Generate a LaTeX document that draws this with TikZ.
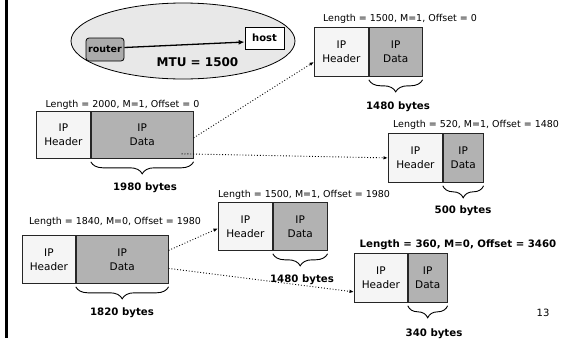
\documentclass[tikz,border=0pt]{standalone}
\usepackage{fontspec}
\setmainfont{DejaVu Sans}
\usetikzlibrary{arrows.meta,decorations.pathreplacing,calc,shapes.geometric}
\begin{document}
\begin{tikzpicture}[x=1pt,y=-1pt,
  hdr/.style={draw=black!85, fill=black!4, line width=0.8pt, inner sep=0pt, anchor=north west, align=center, font=\fontsize{10.5}{14}\selectfont},
  dat/.style={hdr, fill=black!30},
  lbl/.style={font=\fontsize{9.5}{11}\selectfont, inner sep=0pt},
  blbl/.style={font=\bfseries\fontsize{10.2}{12}\selectfont, inner sep=0pt},
  brc/.style={decorate, decoration={brace, mirror, amplitude=12pt}, line width=0.9pt},
  darr/.style={dotted, line width=0.9pt, -{Latex[length=4.5pt,width=3.5pt]}},
]
\useasboundingbox (0,0) rectangle (577,338);
% left bar
\draw[line width=3pt] (6.5,0) -- (6.5,338);

% network ellipse
\node[ellipse, draw, line width=0.8pt, fill=black!9, minimum width=224pt, minimum height=76pt, inner sep=0pt] (net) at (183,41) {};
\node[draw, line width=0.8pt, fill=black!33, rounded corners=3pt, minimum width=38pt, minimum height=23pt, inner sep=0pt, font=\bfseries\fontsize{9.5}{11}\selectfont] (router) at (105,49.5) {router};
\node[draw, line width=0.8pt, fill=white, minimum width=39pt, minimum height=22pt, inner sep=0pt, font=\bfseries\fontsize{10}{12}\selectfont] (host) at (264.5,38) {host};
\draw[line width=1.3pt, -{Latex[length=6pt,width=5pt]}] ([yshift=2pt]router.east) -- ([yshift=-4pt]host.west);
\node[font=\bfseries\fontsize{12}{14}\selectfont, inner sep=0pt] (mtu) at (197.5,62) {MTU = 1500};

% original packet
\node[lbl] (l1) at (122.5,105) {Length = 2000, M=1, Offset = 0};
\node[hdr, minimum width=54pt, minimum height=47pt] (p1h) at (36,111) {IP\\Header};
\node[dat, minimum width=102pt, minimum height=47pt] (p1d) at (p1h.north east) {IP\\Data};
\draw[brc] ([yshift=-3pt]p1d.south west) -- ([yshift=-3pt]p1d.south east);
\node[blbl] (b1) at (145,188) {1980 bytes};

% fragment 1
\node[lbl] (l2) at (400,19) {Length = 1500, M=1, Offset = 0};
\node[hdr, minimum width=54pt, minimum height=49pt] (f1h) at (314,27) {IP\\Header};
\node[dat, minimum width=53pt, minimum height=49pt] (f1d) at (f1h.north east) {IP\\Data};
\draw[brc] ([yshift=-3pt]f1d.south west) -- ([yshift=-3pt]f1d.south east);
\node[blbl] (b2) at (398,107) {1480 bytes};

% fragment 2
\node[lbl] (l3) at (476,125) {Length = 520, M=1, Offset = 1480};
\node[hdr, minimum width=54pt, minimum height=49pt] (f2h) at (388,133) {IP\\Header};
\node[dat, minimum width=40pt, minimum height=49pt] (f2d) at (f2h.north east) {IP\\Data};
\draw[brc] ([yshift=-3pt]f2d.south west) -- ([yshift=-3pt]f2d.south east);
\node[blbl] (b3) at (463,211) {500 bytes};

% second packet
\node[lbl] (l4) at (115,222) {Length = 1840, M=0, Offset = 1980};
\node[hdr, minimum width=53pt, minimum height=48pt] (p3h) at (22,235) {IP\\Header};
\node[dat, minimum width=92pt, minimum height=48pt] (p3d) at (p3h.north east) {IP\\Data};
\draw[brc] ([yshift=-3pt]p3d.south west) -- ([yshift=-3pt]p3d.south east);
\node[blbl] (b4) at (122,313) {1820 bytes};

% fragment 4
\node[lbl] (l5) at (304,195) {Length = 1500, M=1, Offset = 1980};
\node[hdr, minimum width=54pt, minimum height=48pt] (f4h) at (218,202) {IP\\Header};
\node[dat, minimum width=54pt, minimum height=48pt] (f4d) at (f4h.north east) {IP\\Data};
\draw[brc] ([yshift=-3pt]f4d.south west) -- ([yshift=-3pt]f4d.south east);
\node[blbl] (b5) at (302,280) {1480 bytes};

% fragment 5
\node[blbl] (l6) at (458,245) {Length = 360, M=0, Offset = 3460};
\node[hdr, minimum width=53pt, minimum height=49pt] (f5h) at (354,253) {IP\\Header};
\node[dat, minimum width=39pt, minimum height=49pt] (f5d) at (f5h.north east) {IP\\Data};
\draw[brc] ([yshift=-3pt]f5d.south west) -- ([yshift=-3pt]f5d.south east);
\node[blbl] (b6) at (434,334) {340 bytes};

\node[font=\fontsize{10}{12}\selectfont, inner sep=0pt] (pg) at (543,313) {13};

% dotted arrows
\draw[darr] ([yshift=-3pt]p1d.east) -- ([yshift=-10pt]f1h.west);
\draw[darr] ([xshift=-12pt,yshift=5pt]p1d.south east) -- (f2h.west);
\draw[darr] ([yshift=9pt]p3d.east) -- ([yshift=-2pt]f4h.west);
\draw[darr] ([yshift=-9pt]p3d.east) -- ([yshift=-14pt]f5h.west);
\end{tikzpicture}
\end{document}
